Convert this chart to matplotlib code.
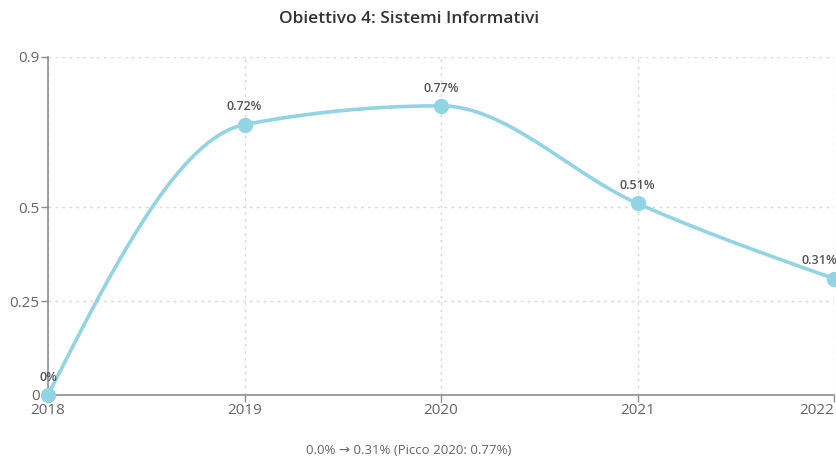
import numpy as np
import matplotlib
matplotlib.use("Agg")
import matplotlib.pyplot as plt

# data
years = [2018, 2019, 2020, 2021, 2022]
values = [0.0, 0.72, 0.77, 0.51, 0.31]
labels = ["0%", "0.72%", "0.77%", "0.51%", "0.31%"]
yticks = [0, 0.25, 0.5, 0.9]
title = "Obiettivo 4: Sistemi Informativi"
footer = "0.0% \u2192 0.31% (Picco 2020: 0.77%)"

LINE = "#92d4e3"
GRID = "#d9d9d9"
AXIS = "#8c8c8c"
TEXT = "#666666"


def monotone_curve(x, y, n=40):
    """monotone cubic (like d3 curveMonotoneX) through the points"""
    x = np.asarray(x, float)
    y = np.asarray(y, float)
    h = np.diff(x)
    s = np.diff(y) / h
    t = np.zeros(len(x))
    for i in range(1, len(x) - 1):
        p = (s[i - 1] * h[i] + s[i] * h[i - 1]) / (h[i - 1] + h[i])
        t[i] = (np.sign(s[i - 1]) + np.sign(s[i])) * min(abs(s[i - 1]), abs(s[i]), 0.5 * abs(p))
    t[0] = (3 * s[0] - t[1]) / 2
    t[-1] = (3 * s[-1] - t[-2]) / 2
    xs, ys = [], []
    u = np.linspace(0, 1, n)
    for i in range(len(x) - 1):
        dx = h[i] / 3
        px = [x[i], x[i] + dx, x[i + 1] - dx, x[i + 1]]
        py = [y[i], y[i] + dx * t[i], y[i + 1] - dx * t[i + 1], y[i + 1]]
        b = [(1 - u) ** 3, 3 * (1 - u) ** 2 * u, 3 * (1 - u) * u ** 2, u ** 3]
        xs.append(sum(bk * pk for bk, pk in zip(b, px)))
        ys.append(sum(bk * pk for bk, pk in zip(b, py)))
    return np.concatenate(xs), np.concatenate(ys)


plt.rcParams['font.family'] = ['Open Sans', 'DejaVu Sans']

fig = plt.figure(figsize=(8.36, 4.58), dpi=100)
ax = fig.add_axes([48 / 836, 63 / 458, 786 / 836, 338 / 458])

cx, cy = monotone_curve(years, values)
ax.plot(cx, cy, color=LINE, lw=2.6, solid_capstyle="round", zorder=3, clip_on=False)
ax.plot(years, values, "o", color=LINE, ms=10, zorder=4, clip_on=False)

for i, (xv, yv, lab) in enumerate(zip(years, values, labels)):
    # last label pushed inward so it stays inside the picture
    dx = -8 if i == len(years) - 1 else 0
    ha = "right" if i == len(years) - 1 else "center"
    if i == len(years) - 1:
        dx = 2
    ax.annotate(lab, (xv, yv), xytext=(dx, 8), textcoords="offset points",
                ha=ha, va="bottom", fontsize=9, fontweight="semibold",
                color="#555555", annotation_clip=False)

ax.set_xlim(2018, 2022)
ax.set_ylim(0, 0.9)
ax.set_xticks(years)
ax.set_yticks(yticks)
ax.set_yticklabels(["0", "0.25", "0.5", "0.9"])
ax.tick_params(colors=AXIS, labelcolor=TEXT, labelsize=11, length=5, width=1)
ax.tick_params(axis="x", pad=1)
ax.tick_params(axis="y", pad=1)
xlabs = ax.get_xticklabels()
xlabs[-1].set_horizontalalignment("right")
xlabs[-1].set_x(years[-1])

ax.grid(True, color=GRID, ls=(0, (2, 3)), lw=1)
ax.set_axisbelow(True)
for side in ["top", "right"]:
    ax.spines[side].set_visible(False)
for side in ["left", "bottom"]:
    ax.spines[side].set_color(AXIS)
    ax.spines[side].set_linewidth(1.2)

fig.text(409 / 836, 1 - 19 / 458, title, ha="center", va="center",
         fontsize=12.5, fontweight="semibold", color="#333333")
fig.text(409 / 836, 1 - 451 / 458, footer, ha="center", va="center",
         fontsize=9.5, color=TEXT)

fig.savefig("out.png", dpi=100)
